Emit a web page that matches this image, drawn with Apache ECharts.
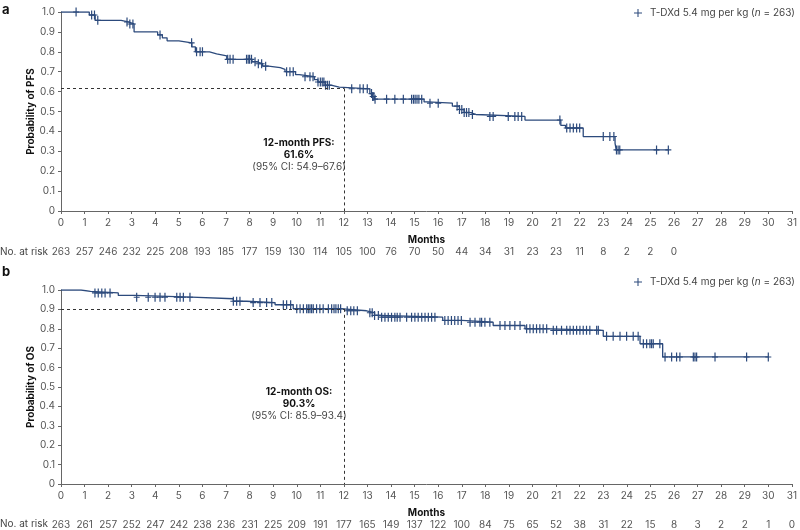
<!DOCTYPE html>
<html><head><meta charset="utf-8">
<script src="https://cdn.jsdelivr.net/npm/echarts@6/dist/echarts.min.js"></script>
<style>html,body{margin:0;padding:0;background:#fff}#c{width:800px;height:530px}</style>
</head><body><div id="c"></div>
<script>
// ---- PFS (panel a) ----
const pfsEventMonths = [0, 1.2, 1.45, 2.55, 2.85, 3.1, 4.1, 4.3, 4.5, 5.0, 5.55, 5.7, 6.3, 6.6, 7.03, 8.1, 8.3, 8.55, 8.8, 9.3, 9.5, 9.95, 10.1, 10.75, 10.9, 11.2, 11.45, 11.8, 13.1, 13.2, 13.3, 15.4, 15.55, 16.6, 16.9, 17.1, 17.35, 17.6, 19.68, 21.2, 21.4, 22.15, 23.5, 23.55];
const pfsSurvival = [1.0, 0.985, 0.958, 0.95, 0.94, 0.90, 0.885, 0.87, 0.855, 0.845, 0.825, 0.80, 0.79, 0.78, 0.762, 0.75, 0.74, 0.728, 0.72, 0.712, 0.70, 0.685, 0.675, 0.66, 0.648, 0.632, 0.622, 0.614, 0.59, 0.575, 0.562, 0.548, 0.542, 0.527, 0.51, 0.495, 0.485, 0.475, 0.457, 0.43, 0.417, 0.374, 0.34, 0.307];
const pfsLastFollowUp = 25.76;
const pfsCensorMonths = [0.64, 1.3, 1.42, 1.56, 2.8, 2.92, 3.05, 4.2, 5.54, 5.75, 5.9, 6.0, 7.07, 7.17, 7.3, 7.87, 7.94, 8.0, 8.08, 8.23, 8.37, 8.51, 8.68, 9.57, 9.71, 9.85, 10.35, 10.56, 10.69, 10.9, 11.0, 11.08, 11.15, 11.22, 11.3, 11.38, 12.33, 12.68, 12.82, 12.99, 13.17, 13.22, 13.27, 13.32, 13.81, 14.16, 14.52, 14.87, 14.95, 15.02, 15.1, 15.18, 15.3, 15.65, 16.0, 16.8, 16.9, 17.0, 17.1, 17.2, 17.3, 17.45, 18.19, 18.33, 18.97, 19.25, 19.39, 19.54, 21.16, 21.45, 21.59, 21.73, 21.87, 22.0, 23.0, 23.28, 23.45, 23.56, 23.63, 23.7, 25.26, 25.76];
const pfsAtRisk = [263, 257, 246, 232, 225, 208, 193, 185, 177, 159, 130, 114, 105, 100, 76, 70, 50, 44, 34, 31, 23, 23, 11, 8, 2, 2, 0];
const pfsMilestone = [12, 0.616];
const pfsNote = ['12-month PFS:', '61.6%', '(95% CI: 54.9\u201367.6)'];

// ---- OS (panel b) ----
const osEventMonths = [0, 0.85, 1.25, 2.43, 3.14, 5.54, 7.31, 7.87, 9.08, 9.85, 11.97, 12.96, 13.3, 13.5, 16.19, 17.0, 18.33, 19.68, 20.8, 23.0, 24.56, 25.52];
const osSurvival = [1.0, 0.993, 0.985, 0.972, 0.963, 0.955, 0.942, 0.935, 0.924, 0.903, 0.893, 0.883, 0.869, 0.86, 0.843, 0.834, 0.817, 0.80, 0.792, 0.761, 0.723, 0.655];
const osLastFollowUp = 30.0;
const osCensorMonths = [1.44, 1.58, 1.73, 1.87, 2.08, 3.21, 3.7, 3.99, 4.2, 4.41, 4.91, 5.05, 5.19, 5.47, 7.31, 7.45, 7.59, 8.15, 8.44, 8.72, 8.94, 9.43, 9.57, 9.74, 10.0, 10.14, 10.28, 10.42, 10.49, 10.56, 10.63, 10.7, 10.84, 10.98, 11.12, 11.34, 11.48, 11.58, 11.66, 11.76, 11.86, 12.14, 12.29, 12.42, 12.57, 13.1, 13.2, 13.3, 13.46, 13.6, 13.74, 13.88, 14.02, 14.16, 14.26, 14.38, 14.66, 14.87, 15.01, 15.15, 15.3, 15.44, 15.58, 15.72, 15.86, 16.28, 16.42, 16.56, 16.7, 16.84, 16.98, 17.35, 17.56, 17.77, 17.84, 17.98, 18.19, 18.62, 18.83, 19.04, 19.25, 19.47, 19.75, 19.89, 20.03, 20.17, 20.31, 20.45, 20.6, 20.88, 21.02, 21.23, 21.45, 21.59, 21.73, 21.87, 22.01, 22.15, 22.29, 22.43, 22.72, 22.79, 23.14, 23.42, 23.71, 23.99, 24.27, 24.48, 24.7, 24.84, 24.98, 25.05, 25.12, 25.4, 25.62, 25.9, 26.11, 26.25, 26.82, 26.89, 26.96, 27.74, 29.08, 30.0];
const osAtRisk = [263, 261, 257, 252, 247, 242, 238, 236, 231, 225, 209, 191, 177, 165, 149, 137, 122, 100, 84, 75, 65, 52, 38, 31, 22, 15, 8, 3, 2, 2, 1, 0];
const osMilestone = [12, 0.903];
const osNote = ['12-month OS:', '90.3%', '(95% CI: 85.9\u201393.4)'];

const legendLabel = 'T-DXd 5.4 mg per kg ({i|n} = 263)';
const yAxisNames = ['Probability of PFS', 'Probability of OS'];

// ---- helpers ----
const FONT = 'Inter, Roboto, sans-serif';
const CURVE = '#2c4a7c';
const TICK = 'path://M2.4,0h1.2v10h-1.2z M0,4.4h6v1.2h-6z';
const PLUS = 'path://M4.35,0h1.3v10h-1.3z M0,4.35h10v1.3h-10z';

function stepAt(times, surv, t) {
  let s = surv[0];
  for (let i = 0; i < times.length; i++) if (times[i] <= t) s = surv[i];
  return s;
}
function curveData(times, surv, end) {
  const d = times.map((t, i) => [t, surv[i]]);
  d.push([end, surv[surv.length - 1]]);
  return d;
}
function censorData(cens, times, surv) {
  return cens.map(t => [t, stepAt(times, surv, t)]);
}

const grids = [
  { left: 61, width: 731, top: 12, height: 199 },
  { left: 61, width: 731, top: 290, height: 194 }
];

function mainX(g) {
  return {
    type: 'value', gridIndex: g, min: 0, max: 31, interval: 1,
    name: 'Months', nameLocation: 'middle', nameGap: 24,
    nameTextStyle: { fontFamily: FONT, fontWeight: 'bold', fontSize: 10, color: '#111' },
    axisLine: { show: true, lineStyle: { color: '#666', width: 1 } },
    axisTick: { show: true, length: 3, lineStyle: { color: '#666' } },
    axisLabel: { fontFamily: FONT, fontSize: 10, color: '#555', margin: 7 },
    splitLine: { show: false }
  };
}
function riskX(g, arr) {
  return {
    type: 'value', gridIndex: g, min: 0, max: 31, interval: 1, position: 'bottom', offset: 28,
    axisLine: { show: false }, axisTick: { show: false }, splitLine: { show: false },
    axisLabel: { fontFamily: FONT, fontSize: 10, color: '#555', margin: 8,
      formatter: v => (arr[Math.round(v)] !== undefined ? String(arr[Math.round(v)]) : '') }
  };
}
function mainY(g, name) {
  return {
    type: 'value', gridIndex: g, min: 0, max: 1, interval: 0.1,
    name: name, nameLocation: 'middle', nameGap: 25, nameMoveOverlap: false,
    nameTextStyle: { fontFamily: FONT, fontWeight: 'bold', fontSize: 10, color: '#111' },
    axisLine: { show: true, lineStyle: { color: '#666', width: 1 } },
    axisTick: { show: true, length: 3, lineStyle: { color: '#666' } },
    axisLabel: { fontFamily: FONT, fontSize: 10, color: '#555', margin: 6,
      formatter: v => (v === 0 ? '0' : v.toFixed(1)) },
    splitLine: { show: false }
  };
}
function milestoneLines(m) {
  return {
    silent: true, symbol: ['none', 'none'], label: { show: false },
    lineStyle: { type: [3, 3], color: '#333', width: 1 },
    data: [
      [{ coord: [0, m[1]] }, { coord: [m[0], m[1]] }],
      [{ coord: [m[0], m[1]] }, { coord: [m[0], 0] }]
    ]
  };
}
function legend(name, top) {
  return {
    data: [name], right: 0, top: top, icon: PLUS, itemWidth: 8, itemHeight: 8, itemGap: 6,
    formatter: () => legendLabel,
    textStyle: { fontFamily: FONT, fontSize: 10, color: '#444', padding: [0, 0, 0, 3],
      rich: { i: { fontFamily: FONT, fontSize: 10, color: '#444', fontStyle: 'italic' } } }
  };
}
function noteTexts(lines, x, y0) {
  return lines.map((t, i) => ({
    type: 'text', x: x, y: y0 + i * 11.8,
    style: { text: t, fontFamily: FONT, fontSize: 10, fontWeight: i < 2 ? 'bold' : 'normal',
      fill: i < 2 ? '#111' : '#444', align: 'center', verticalAlign: 'middle' }
  }));
}

const chart = echarts.init(document.getElementById('c'), null, { renderer: 'canvas' });
chart.setOption({
  animation: false,
  backgroundColor: '#fff',
  grid: grids,
  xAxis: [mainX(0), riskX(0, pfsAtRisk), mainX(1), riskX(1, osAtRisk)],
  yAxis: [mainY(0, yAxisNames[0]), mainY(1, yAxisNames[1])],
  legend: [legend('pfsCensored', 3), legend('osCensored', 272)],
  series: [
    { type: 'line', name: 'pfs', xAxisIndex: 0, yAxisIndex: 0, step: 'end', showSymbol: false,
      data: curveData(pfsEventMonths, pfsSurvival, pfsLastFollowUp),
      lineStyle: { color: CURVE, width: 1.3 }, itemStyle: { color: CURVE }, z: 3,
      markLine: milestoneLines(pfsMilestone) },
    { type: 'scatter', name: 'pfsCensored', xAxisIndex: 0, yAxisIndex: 0, symbol: TICK, symbolSize: [6, 9],
      data: censorData(pfsCensorMonths, pfsEventMonths, pfsSurvival), itemStyle: { color: CURVE, opacity: 1 }, z: 4 },
    { type: 'line', name: 'os', xAxisIndex: 2, yAxisIndex: 1, step: 'end', showSymbol: false,
      data: curveData(osEventMonths, osSurvival, osLastFollowUp),
      lineStyle: { color: CURVE, width: 1.3 }, itemStyle: { color: CURVE }, z: 3,
      markLine: milestoneLines(osMilestone) },
    { type: 'scatter', name: 'osCensored', xAxisIndex: 2, yAxisIndex: 1, symbol: TICK, symbolSize: [6, 9],
      data: censorData(osCensorMonths, osEventMonths, osSurvival), itemStyle: { color: CURVE, opacity: 1 }, z: 4 }
  ],
  graphic: [
    { type: 'text', x: 2, y: 4, style: { text: 'a', fontFamily: FONT, fontSize: 13, fontWeight: 'bold', fill: '#111' } },
    { type: 'text', x: 2, y: 266, style: { text: 'b', fontFamily: FONT, fontSize: 13, fontWeight: 'bold', fill: '#111' } },
    { type: 'text', x: 0, y: 252, style: { text: 'No. at risk', fontFamily: FONT, fontSize: 10, fill: '#444', verticalAlign: 'middle' } },
    { type: 'text', x: 0, y: 524, style: { text: 'No. at risk', fontFamily: FONT, fontSize: 10, fill: '#444', verticalAlign: 'middle' } }
  ].concat(noteTexts(pfsNote, 299, 143), noteTexts(osNote, 299, 392))
});
</script></body></html>
